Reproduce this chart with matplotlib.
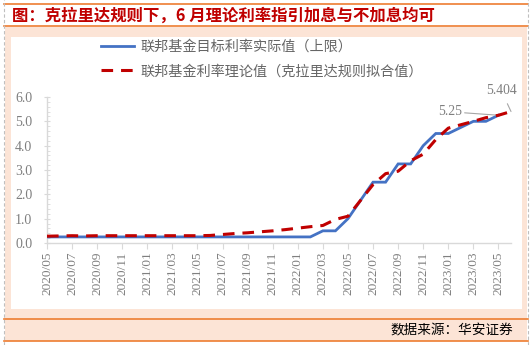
import numpy as np
import matplotlib
matplotlib.use('Agg')
import matplotlib.pyplot as plt
from matplotlib.patches import Rectangle
from matplotlib.lines import Line2D

plt.rcParams['font.family'] = ['Noto Sans CJK SC', 'DejaVu Sans']

months = ['2020/05', '2020/06', '2020/07', '2020/08', '2020/09', '2020/10', '2020/11', '2020/12',
          '2021/01', '2021/02', '2021/03', '2021/04', '2021/05', '2021/06', '2021/07', '2021/08',
          '2021/09', '2021/10', '2021/11', '2021/12', '2022/01', '2022/02', '2022/03', '2022/04',
          '2022/05', '2022/06', '2022/07', '2022/08', '2022/09', '2022/10', '2022/11', '2022/12',
          '2023/01', '2023/02', '2023/03', '2023/04', '2023/05', '2023/06']

fed_upper = [0.25, 0.25, 0.25, 0.25, 0.25, 0.25, 0.25, 0.25,
             0.25, 0.25, 0.25, 0.25, 0.25, 0.25, 0.25, 0.25,
             0.25, 0.25, 0.25, 0.25, 0.25, 0.25, 0.5, 0.5,
             1.0, 1.75, 2.5, 2.5, 3.25, 3.25, 4.0, 4.5,
             4.5, 4.75, 5.0, 5.0, 5.25, np.nan]

taylor_fit = [0.28, 0.29, 0.30, 0.29, 0.30, 0.30, 0.30, 0.30,
              0.30, 0.30, 0.30, 0.30, 0.30, 0.31, 0.35, 0.39,
              0.42, 0.46, 0.50, 0.55, 0.61, 0.67, 0.72, 0.97,
              1.10, 1.75, 2.40, 2.85, 2.95, 3.38, 3.65, 4.25,
              4.72, 4.86, 5.00, 5.15, 5.25, 5.404]

W, H = 530, 345
ORANGE = '#ED7D31'
PEACH = '#FCE4D6'
GREY = '#7F7F7F'


def px(x, y):
    # pixel (from top-left) -> figure fraction
    return x / W, 1 - y / H


fig = plt.figure(figsize=(5.3, 3.45), dpi=100)

# frame: peach panel, white plot area, orange rules, dashed side borders
fig.patches.append(Rectangle(px(5, 341), 522 / W, 314 / H, transform=fig.transFigure,
                             facecolor=PEACH, edgecolor='none', zorder=-2))
fig.patches.append(Rectangle(px(11, 309), 510.7 / W, 272 / H, transform=fig.transFigure,
                             facecolor='white', edgecolor='none', zorder=-1))
for yy in (4, 26, 319, 341):
    fig.add_artist(Line2D([4 / W, 528 / W], [1 - yy / H] * 2, transform=fig.transFigure,
                          color=ORANGE, lw=1.2))
for xx in (4, 528):
    fig.add_artist(Line2D([xx / W] * 2, [0, 1], transform=fig.transFigure,
                          color='#BFBFBF', lw=0.8, ls=(0, (3, 2))))

fig.text(12 / W, 1 - 15.5 / H, '图：克拉里达规则下，6 月理论利率指引加息与不加息均可',
         color='#C00000', fontsize=11.8, fontweight='bold', ha='left', va='center')
fig.text(513 / W, 1 - 330 / H, '数据来源：华安证券', color='black', fontsize=9.8,
         ha='right', va='center')

ax = fig.add_axes([47 / W, (H - 243) / H, (511 - 47) / W, 146 / H])
ax.set_zorder(2)
ax.set_facecolor('none')
x = np.arange(len(months))

ax.plot(x, fed_upper, color='#4472C4', lw=2.0, label='联邦基金目标利率实际值（上限）',
        solid_joinstyle='miter', zorder=3)
ax.plot(x, taylor_fit, color='#C00000', lw=2.2, dashes=(3.8, 2.6),
        label='联邦基金利率理论值（克拉里达规则拟合值）', zorder=4)

ax.set_xlim(0, len(months) - 1)
ax.set_ylim(0, 6)
ax.set_xticks(x[:-1:2])
ax.set_xticklabels(months[:-1:2], rotation=90, family='Liberation Serif',
                   fontsize=9.6, color=GREY)
ax.set_yticks(np.arange(0, 7, 1))
ax.set_yticklabels([f'{v:.1f}' for v in range(7)], family='Liberation Serif',
                   fontsize=10, color=GREY)
ax.set_yticks(np.arange(0, 6.01, 0.2), minor=True)
ax.tick_params(axis='y', which='major', direction='inout', length=5, color='#D9D9D9', pad=8)
ax.tick_params(axis='y', which='minor', direction='in', length=2.5, color='#D9D9D9')
ax.tick_params(axis='x', which='major', direction='out', length=4, color='#D9D9D9', pad=2)
for s in ('top', 'right'):
    ax.spines[s].set_visible(False)
for s in ('left', 'bottom'):
    ax.spines[s].set_color('#D9D9D9')
    ax.spines[s].set_linewidth(1.0)

i_last = len(months) - 2
ax.annotate(f'{fed_upper[i_last]:.2f}', xy=(x[i_last], fed_upper[i_last]),
            xytext=(-35, 2.5), textcoords='offset points', ha='center', va='center',
            family='Liberation Serif', fontsize=9.8, color=GREY,
            arrowprops=dict(arrowstyle='-', color='#A6A6A6', lw=0.8, shrinkA=0, shrinkB=0))
ax.annotate(f'{taylor_fit[-1]:.3f}', xy=(x[-1], taylor_fit[-1]),
            xytext=(-7, 15), textcoords='offset points', ha='center', va='center',
            family='Liberation Serif', fontsize=9.8, color=GREY,
            arrowprops=dict(arrowstyle='-', color='#A6A6A6', lw=0.8, shrinkA=3, shrinkB=0))

leg = fig.legend(loc='upper left', bbox_to_anchor=(101 / W, 1 - 40 / H), frameon=False,
                 fontsize=10.2, handlelength=2.3, handletextpad=0.45, labelspacing=0.72,
                 borderpad=0, borderaxespad=0)
leg.set_zorder(3)
for t in leg.get_texts():
    t.set_color('#666666')

fig.savefig('out.png', dpi=100)
